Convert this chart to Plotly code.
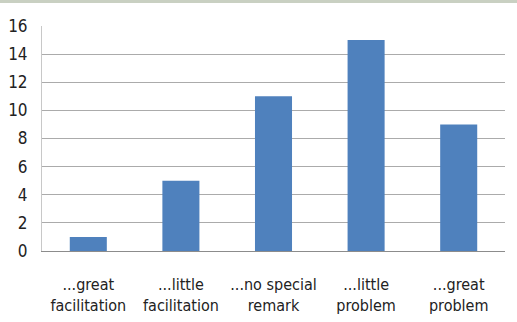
import plotly.graph_objects as go

categories = ["...great<br>facilitation", "...little<br>facilitation", "...no special<br>remark", "...little<br>problem", "...great<br>problem"]
values = [1, 5, 11, 15, 9]
y_ticks = [0, 2, 4, 6, 8, 10, 12, 14, 16]

FONT = "DejaVu Sans Condensed, Liberation Sans Narrow, sans-serif"

fig = go.Figure(go.Bar(x=categories, y=values, marker=dict(color="#4f81bd", line=dict(width=0))))

W, H = 517, 322
ml, mr, mt, mb = 42, 12, 26, 71
ph = H - mt - mb

fig.update_layout(
    width=W, height=H,
    margin=dict(l=ml, r=mr, t=mt, b=mb, autoexpand=False),
    paper_bgcolor="white", plot_bgcolor="white",
    bargap=0.6,
    showlegend=False,
    font=dict(family=FONT, size=16, color="#222"),
    xaxis=dict(showgrid=False, showline=True, linecolor="#8c8c8c", linewidth=1, automargin=False,
               ticks="outside", ticklen=19, tickcolor="rgba(0,0,0,0)",
               tickfont=dict(family=FONT, size=16, color="#222")),
    yaxis=dict(range=[0, 16], tickvals=y_ticks, showgrid=True, gridcolor="#ababab", gridwidth=1,
               showline=True, linecolor="#c8c8c8", linewidth=1, zeroline=False, automargin=False,
               ticks="outside", ticklen=10, tickcolor="rgba(0,0,0,0)",
               tickfont=dict(family=FONT, size=17, color="#222")),
    shapes=[dict(type="rect", xref="paper", yref="paper", x0=-ml / (W - ml - mr), x1=1 + mr / (W - ml - mr),
                 y0=1 + (mt - 3) / ph, y1=1 + mt / ph, fillcolor="#c9d0c2", line=dict(width=0), layer="below")],
)

fig.write_html("out.html")
